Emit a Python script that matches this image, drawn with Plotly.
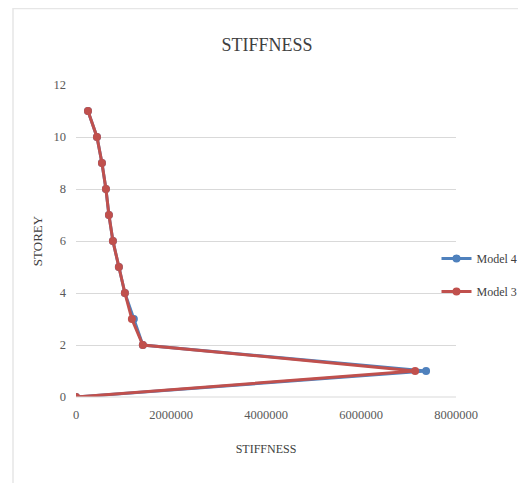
import plotly.graph_objects as go

storey = [0, 1, 2, 3, 4, 5, 6, 7, 8, 9, 10, 11]
model4 = [0, 7370000, 1407000, 1218000, 1029000, 903000, 777000, 693000, 630000, 546000, 441000, 252000]
model3 = [0, 7139000, 1407000, 1176000, 1029000, 903000, 777000, 693000, 630000, 546000, 441000, 252000]
x_ticks = [0, 2000000, 4000000, 6000000, 8000000]
y_ticks = [0, 2, 4, 6, 8, 10, 12]

# page has an 8px body margin; figure coordinates compensate for it
W, H = 518, 475
L, R, T, B = 68, 448, 77, 389

fig = go.Figure()
fig.add_trace(go.Scatter(x=model4, y=storey, mode="lines+markers", name="Model 4",
                         legendgroup="m4",
                         line=dict(color="#4F81BD", width=3),
                         marker=dict(color="#4F81BD", size=8, symbol="circle")))
fig.add_trace(go.Scatter(x=model3, y=storey, mode="lines+markers", name="Model 3",
                         legendgroup="m3",
                         line=dict(color="#C0504D", width=3),
                         marker=dict(color="#C0504D", size=8, symbol="circle")))

serif = "Liberation Serif, Times New Roman, serif"
fig.update_layout(
    width=W, height=H,
    margin=dict(l=L, r=W - R, t=T, b=H - B, pad=0, autoexpand=False),
    paper_bgcolor="white", plot_bgcolor="white",
    font=dict(family=serif, color="#595959", size=12),
    title=dict(text="STIFFNESS", x=0.5, xanchor="center", y=1 - 37 / H, yanchor="middle",
               font=dict(family=serif, size=18, color="#404040")),
    showlegend=True,
    legend=dict(xref="container", yref="container",
                x=(434 - 5.5) / W, xanchor="left", y=1 - 267 / H, yanchor="middle",
                bgcolor="rgba(0,0,0,0)", font=dict(family=serif, size=12, color="#404040"),
                tracegroupgap=14, itemwidth=30),
    xaxis=dict(range=[0, 8000000], tickvals=x_ticks, ticktext=[str(v) for v in x_ticks],
               showgrid=False, zeroline=False, showline=False, ticks="", ticklabelstandoff=8,
               tickfont=dict(size=12.5),
               title=dict(text="STIFFNESS", font=dict(family=serif, size=12, color="#404040"), standoff=24)),
    yaxis=dict(range=[0, 12], tickvals=y_ticks, showgrid=True, gridcolor="#D9D9D9", gridwidth=1,
               zeroline=False, showline=False, ticks="", ticklabelstandoff=9,
               tickfont=dict(size=12.5),
               title=dict(text="STOREY", font=dict(family=serif, size=13, color="#404040"), standoff=7)),
    shapes=[
        dict(type="line", xref="paper", yref="paper", x0=0, x1=1, y0=0, y1=0,
             line=dict(color="#D9D9D9", width=1)),
        dict(type="rect", xref="paper", yref="paper",
             x0=(5 - L) / (R - L), x1=(511 - L) / (R - L),
             y0=(B - 490) / (B - T), y1=(B - 0.5) / (B - T),
             line=dict(color="#E6E6E6", width=1.5), layer="below"),
    ],
)
fig.write_html("out.html")
